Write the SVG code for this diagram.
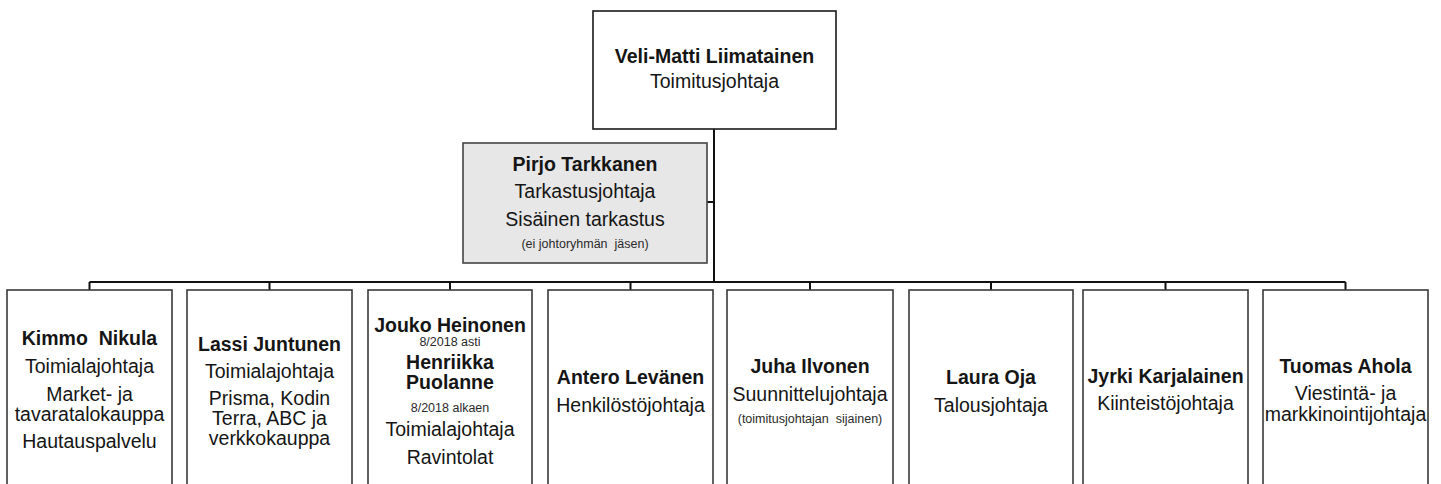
<svg xmlns="http://www.w3.org/2000/svg" width="1441" height="484" viewBox="0 0 1441 484">
<style>
.box{fill:#ffffff;stroke:#3a3a3a;stroke-width:1.6}
.top{fill:#ffffff;stroke:#1a1a1a;stroke-width:1.6}
.gray{fill:#e7e7e7;stroke:#444444;stroke-width:1.6}
.conn{fill:none;stroke:#111111;stroke-width:2}
text{font-family:"Liberation Sans",Arial,sans-serif;text-anchor:middle;fill:#151515}
.b{font-weight:bold;font-size:19.5px}
.r{font-size:19.5px}
.s{font-size:12.5px;fill:#2a2a2a;white-space:pre}
</style>
<rect width="1441" height="484" fill="#ffffff"/>
<g id="connectors">
<path class="conn" d="M714 129V282M707 202H714M89.5 282H1345.5"/>
<path class="conn" d="M89.5 282V290M269.5 282V290M450 282V290M630.5 282V290M810 282V290M991 282V290M1165.5 282V290M1345.5 282V290"/>
</g>
<g id="ceo">
<rect class="top" x="593" y="11" width="243" height="118"/>
<text class="b" x="714.5" y="63">Veli-Matti Liimatainen</text>
<text class="r" x="714.5" y="88">Toimitusjohtaja</text>
</g>
<g id="audit">
<rect class="gray" x="463" y="143" width="244" height="120"/>
<text class="b" x="585" y="171">Pirjo Tarkkanen</text>
<text class="r" x="585" y="198">Tarkastusjohtaja</text>
<text class="r" x="585" y="226">Sisäinen tarkastus</text>
<text class="s" x="585" y="248">(ei johtoryhmän  jäsen)</text>
</g>
<g id="n1">
<rect class="box" x="7" y="290" width="165" height="200"/>
<text class="b" x="89.5" y="345" style="white-space:pre">Kimmo  Nikula</text>
<text class="r" x="89.5" y="373">Toimialajohtaja</text>
<text class="r" x="89.5" y="401">Market- ja</text>
<text class="r" x="89.5" y="421">tavaratalokauppa</text>
<text class="r" x="89.5" y="448">Hautauspalvelu</text>
</g>
<g id="n2">
<rect class="box" x="187" y="290" width="165" height="200"/>
<text class="b" x="269.5" y="351">Lassi Juntunen</text>
<text class="r" x="269.5" y="378">Toimialajohtaja</text>
<text class="r" x="269.5" y="405">Prisma, Kodin</text>
<text class="r" x="269.5" y="425">Terra, ABC ja</text>
<text class="r" x="269.5" y="445">verkkokauppa</text>
</g>
<g id="n3">
<rect class="box" x="368" y="290" width="164" height="200"/>
<text class="b" x="450" y="332">Jouko Heinonen</text>
<text class="s" x="450" y="346">8/2018 asti</text>
<text class="b" x="450" y="369">Henriikka</text>
<text class="b" x="450" y="389">Puolanne</text>
<text class="s" x="450" y="412">8/2018 alkaen</text>
<text class="r" x="450" y="436">Toimialajohtaja</text>
<text class="r" x="450" y="464">Ravintolat</text>
</g>
<g id="n4">
<rect class="box" x="548" y="290" width="165" height="200"/>
<text class="b" x="630.5" y="384">Antero Levänen</text>
<text class="r" x="630.5" y="412">Henkilöstöjohtaja</text>
</g>
<g id="n5">
<rect class="box" x="727" y="290" width="166" height="200"/>
<text class="b" x="810" y="373">Juha Ilvonen</text>
<text class="r" x="810" y="401">Suunnittelujohtaja</text>
<text class="s" x="810" y="423">(toimitusjohtajan  sijainen)</text>
</g>
<g id="n6">
<rect class="box" x="909" y="290" width="164" height="200"/>
<text class="b" x="991" y="384">Laura Oja</text>
<text class="r" x="991" y="412">Talousjohtaja</text>
</g>
<g id="n7">
<rect class="box" x="1083" y="290" width="165" height="200"/>
<text class="b" x="1165.5" y="383">Jyrki Karjalainen</text>
<text class="r" x="1165.5" y="410">Kiinteistöjohtaja</text>
</g>
<g id="n8">
<rect class="box" x="1263" y="290" width="165" height="200"/>
<text class="b" x="1345.5" y="373">Tuomas Ahola</text>
<text class="r" x="1345.5" y="400">Viestintä- ja</text>
<text class="r" x="1345.5" y="421">markkinointijohtaja</text>
</g>
</svg>
